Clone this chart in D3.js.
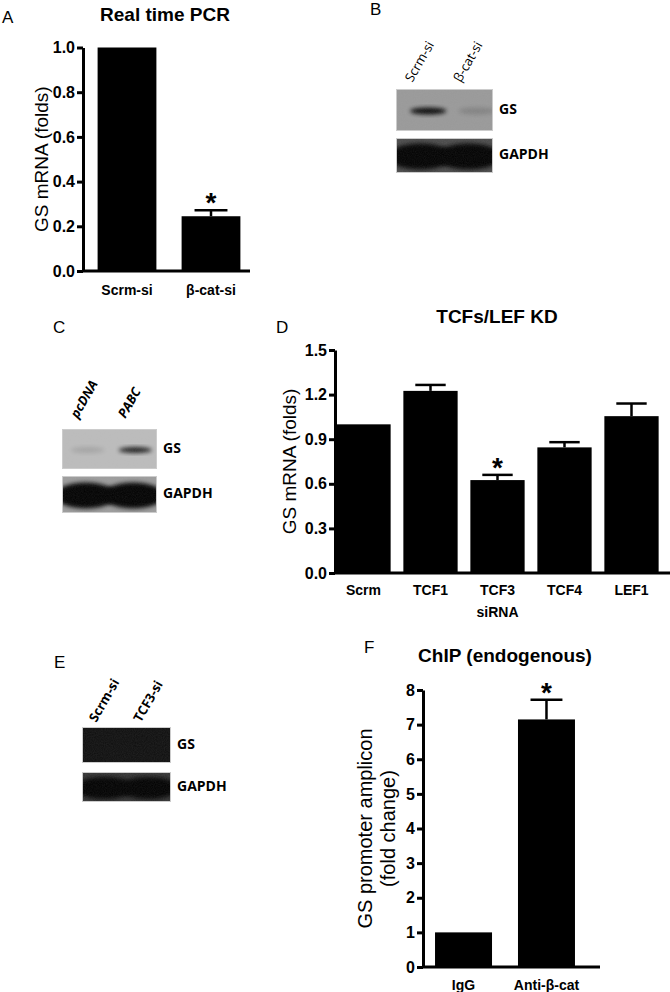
<!DOCTYPE html>
<html>
<head>
<meta charset="utf-8">
<script src="https://cdn.jsdelivr.net/npm/d3@7"></script>
<style>
body { margin: 0; background: #fff; }
svg { display: block; font-family: "Liberation Sans", Arial, sans-serif; }
.axis path, .axis line { stroke: #000; stroke-width: 3; }
.axis text { font-weight: bold; font-size: 16px; fill: #000; font-family: "Liberation Sans", Arial, sans-serif; }
.xlab text { font-weight: bold; font-size: 14px; fill: #000; font-family: "Liberation Sans", Arial, sans-serif; }
.blot-label { font-family: "Open Sans", sans-serif; font-weight: bold; font-size: 14px; }
.lane { font-family: "Open Sans", sans-serif; font-size: 13px; }
</style>
</head>
<body>
<svg width="670" height="992"></svg>
<script>
/* global d3 */
// A: real time PCR
var pcrCats = ['Scrm-si', 'β-cat-si']
var pcrVals = [1.0, 0.245]
var pcrErr = [0, 0.027]
var pcrSig = [false, true]
var pcrTicks = [0, 0.2, 0.4, 0.6, 0.8, 1.0]

// D: TCFs/LEF knockdown
var kdCats = ['Scrm', 'TCF1', 'TCF3', 'TCF4', 'LEF1']
var kdVals = [1.0, 1.225, 0.625, 0.845, 1.055]
var kdErr = [0, 0.04, 0.035, 0.035, 0.085]
var kdSig = [false, false, true, false, false]
var kdTicks = [0, 0.3, 0.6, 0.9, 1.2, 1.5]

// F: ChIP
var chipCats = ['IgG', 'Anti-β-cat']
var chipVals = [1.0, 7.15]
var chipErr = [0, 0.57]
var chipSig = [false, true]
var chipTicks = [0, 1, 2, 3, 4, 5, 6, 7, 8]

// western blots: band darkness per lane
var blotBLanes = ['Scrm-si', 'β-cat-si']
var blotBGs = [0.95, 0.15]
var blotBGapdh = [1, 1]
var blotCLanes = ['pcDNA', 'PABC']
var blotCGs = [0.12, 0.85]
var blotCGapdh = [1, 1]
var blotELanes = ['Scrm-si', 'TCF3-si']
var blotEGs = [0, 0]
var blotEGapdh = [1, 1]

var svg = d3.select('svg')
var defs = svg.append('defs')
defs.append('filter').attr('id', 'blur').attr('x', '-50%').attr('y', '-50%').attr('width', '200%').attr('height', '200%')
  .append('feGaussianBlur').attr('stdDeviation', 2)
var noise = defs.append('filter').attr('id', 'noise')
noise.append('feTurbulence').attr('type', 'fractalNoise').attr('baseFrequency', 0.9).attr('numOctaves', 2).attr('seed', 3)
noise.append('feColorMatrix').attr('values', '0 0 0 0 0.5  0 0 0 0 0.5  0 0 0 0 0.5  0 0 0 0.35 0')

function barPanel (o) {
  var g = svg.append('g')
  var y = d3.scaleLinear().domain([0, o.max]).range([o.y0, o.y1])
  var x = d3.scaleBand().domain(o.cats).range(o.xr).paddingInner(o.pi).paddingOuter(o.po)
  var bw = x.bandwidth()

  g.selectAll('rect.bar')
    .data(o.vals)
    .enter().append('rect')
      .attr('class', 'bar')
      .attr('x', (d, i) => x(o.cats[i]))
      .attr('width', bw)
      .attr('y', d => y(d))
      .attr('height', d => y(0) - y(d))
      .attr('fill', '#000')

  o.vals.forEach(function (v, i) {
    var cx = x(o.cats[i]) + bw / 2
    if (o.err[i] > 0) {
      g.append('line').attr('x1', cx).attr('x2', cx).attr('y1', y(v)).attr('y2', y(v + o.err[i]))
        .attr('stroke', '#000').attr('stroke-width', 2.5)
      g.append('line').attr('x1', cx - bw * 0.28).attr('x2', cx + bw * 0.28)
        .attr('y1', y(v + o.err[i])).attr('y2', y(v + o.err[i]))
        .attr('stroke', '#000').attr('stroke-width', 2.5)
    }
    if (o.sig[i]) {
      g.append('text').attr('x', cx).attr('y', y(v + o.err[i]) + 2)
        .attr('text-anchor', 'middle').attr('font-size', 28).attr('font-weight', 'bold').text('*')
    }
  })

  g.append('g').attr('class', 'axis')
    .attr('transform', 'translate(' + o.ax + ',0)')
    .call(d3.axisLeft(y).tickValues(o.ticks).tickFormat(d3.format(o.fmt)).tickSize(6).tickSizeOuter(0).tickPadding(2))

  g.append('line').attr('x1', o.ax).attr('x2', o.xEnd).attr('y1', y(0)).attr('y2', y(0))
    .attr('stroke', '#000').attr('stroke-width', 3)

  var xa = g.append('g').attr('class', 'xlab')
    .attr('transform', 'translate(0,' + o.y0 + ')')
    .call(d3.axisBottom(x).tickSize(0).tickPadding(o.xpad))
  xa.select('.domain').remove()

  var yl = g.append('text').attr('transform', 'translate(' + o.ylx + ',' + ((o.y0 + o.y1) / 2) + ') rotate(-90)')
    .attr('text-anchor', 'middle').attr('font-size', o.ylsize)
  o.ylab.forEach(function (t, k) {
    yl.append('tspan').attr('x', 0).attr('dy', k === 0 ? 0 : 23).text(t)
  })

  g.append('text').attr('x', o.tx).attr('y', o.ty).attr('text-anchor', 'middle')
    .attr('font-size', 19).attr('font-weight', 'bold').text(o.title)
  return { x: x, y: y, g: g }
}

barPanel({
  cats: pcrCats, vals: pcrVals, err: pcrErr, sig: pcrSig, ticks: pcrTicks, fmt: '.1f', max: 1.0,
  y0: 271, y1: 47.5, ax: 83, xEnd: 250, xr: [85, 253], pi: 0.3, po: 0.15, xpad: 14,
  ylx: 48, ylsize: 19, ylab: ['GS mRNA (folds)'], title: 'Real time PCR', tx: 165, ty: 21
})
var kd = barPanel({
  cats: kdCats, vals: kdVals, err: kdErr, sig: kdSig, ticks: kdTicks, fmt: '.1f', max: 1.5,
  y0: 573, y1: 350, ax: 335, xEnd: 670, xr: [330, 665], pi: 0.19, po: 0.095, xpad: 12,
  ylx: 296, ylsize: 19, ylab: ['GS mRNA (folds)'], title: 'TCFs/LEF KD', tx: 497, ty: 323
})
kd.g.append('text').attr('x', kd.x('TCF3') + kd.x.bandwidth() / 2).attr('y', 617)
  .attr('text-anchor', 'middle').attr('font-size', 14).attr('font-weight', 'bold').text('siRNA')
barPanel({
  cats: chipCats, vals: chipVals, err: chipErr, sig: chipSig, ticks: chipTicks, fmt: 'd', max: 8,
  y0: 967, y1: 690, ax: 423, xEnd: 600, xr: [423, 587], pi: 0.313, po: 0.145, xpad: 13,
  ylx: 372, ylsize: 20, ylab: ['GS promoter amplicon', '(fold change)'], title: 'ChIP (endogenous)', tx: 505, ty: 662
})

// blots
var clipN = 0
function blot (x0, y0, w, h, bg, vals, bandH, bandW, shift, label) {
  var id = 'clip' + (clipN++)
  defs.append('clipPath').attr('id', id).append('rect').attr('x', x0).attr('y', y0).attr('width', w).attr('height', h)
  var g = svg.append('g')
  var lx = d3.scalePoint().domain(d3.range(vals.length)).range([x0, x0 + w]).padding(0.5)
  var inner = g.append('g').attr('clip-path', 'url(#' + id + ')')
  inner.append('rect').attr('x', x0).attr('y', y0).attr('width', w).attr('height', h).attr('fill', bg)
  inner.selectAll('ellipse')
    .data(vals)
    .enter().append('ellipse')
      .attr('cx', (d, i) => lx(i) + shift)
      .attr('cy', y0 + h / 2 + 1)
      .attr('rx', lx.step() * bandW / 2)
      .attr('ry', bandH / 2)
      .attr('fill', '#000')
      .attr('opacity', d => d)
      .attr('filter', 'url(#blur)')
  inner.append('rect').attr('x', x0).attr('y', y0).attr('width', w).attr('height', h)
    .attr('filter', 'url(#noise)').attr('opacity', 0.35)
  g.append('rect').attr('x', x0 + 0.5).attr('y', y0 + 0.5).attr('width', w - 1).attr('height', h - 1)
    .attr('fill', 'none').attr('stroke', '#ccc').attr('stroke-width', 1)
  g.append('text').attr('class', 'blot-label').attr('x', x0 + w + 6).attr('y', y0 + h / 2)
    .attr('dominant-baseline', 'middle').text(label)
  return lx
}

function lanes (lx, names, y, style) {
  names.forEach(function (n, i) {
    var t = svg.append('text').attr('class', 'lane')
      .attr('transform', 'translate(' + (lx(i) - 8) + ',' + y + ') rotate(-60)')
      .text(n)
    if (style === 'bi') t.attr('font-style', 'italic').attr('font-weight', 'bold')
    if (style === 'b') t.attr('font-weight', 'bold')
  })
}

var lb = blot(396, 89, 97, 42, '#999', blotBGs, 7, 0.75, 8, 'GS')
blot(396, 138, 97, 35, '#4a4a4a', blotBGapdh, 26, 1.35, 0, 'GAPDH')
lanes(lb, blotBLanes, 83, '')

var lc = blot(62, 429, 95, 40, '#bcbcbc', blotCGs, 6, 0.7, 2, 'GS')
blot(62, 476, 95, 37, '#9c9c9c', blotCGapdh, 26, 1.3, 0, 'GAPDH')
lanes(lc, blotCLanes, 419, 'bi')

var le = blot(82, 727, 89, 36, '#0e0e0e', blotEGs, 6, 0.7, 0, 'GS')
blot(82, 772, 89, 30, '#333', blotEGapdh, 22, 1.35, 0, 'GAPDH')
lanes(le, blotELanes, 723, 'b')

// panel letters
var letters = [['A', 2, 23], ['B', 370, 15], ['C', 53, 333], ['D', 276, 333], ['E', 54, 668], ['F', 364, 653]]
svg.selectAll('text.letter')
  .data(letters)
  .enter().append('text')
    .attr('class', 'letter')
    .attr('x', d => d[1])
    .attr('y', d => d[2])
    .attr('font-size', 17)
    .text(d => d[0])
</script>
</body>
</html>
